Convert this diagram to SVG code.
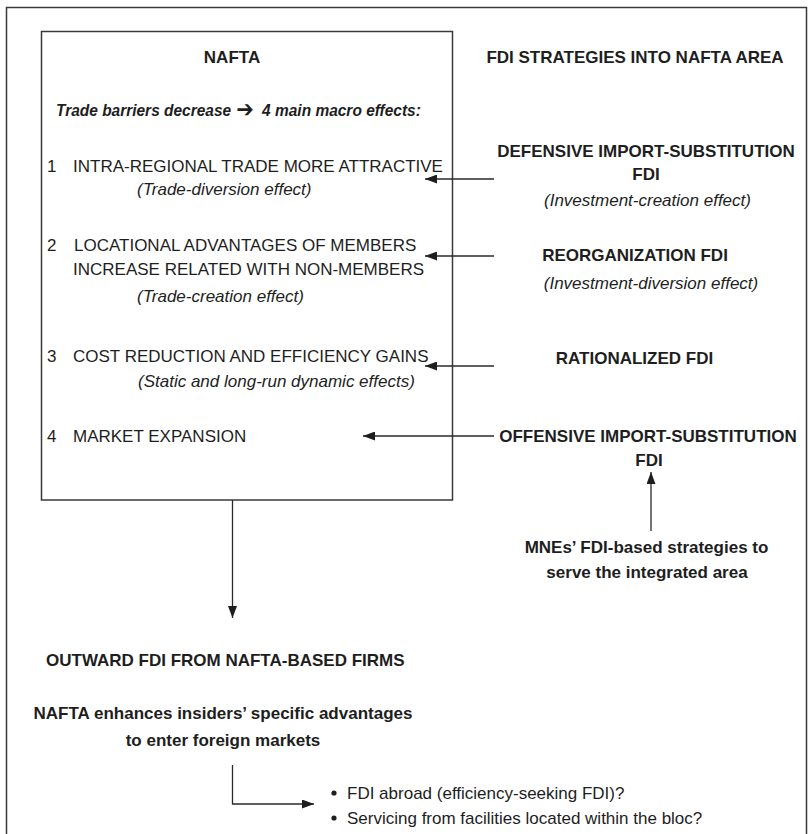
<svg xmlns="http://www.w3.org/2000/svg" width="809" height="834" viewBox="0 0 809 834">
<style>
text{font-family:"Liberation Sans",Arial,sans-serif;fill:#1e1e1e;font-size:17px}
.b{font-weight:bold}
.i{font-style:italic}
.m{text-anchor:middle}
.frame{fill:none;stroke:#3a3a3a;stroke-width:1.5}
.con{fill:none;stroke:#2a2a2a;stroke-width:1.3}
</style>
<defs>
<marker id="ah" markerUnits="userSpaceOnUse" markerWidth="13" markerHeight="9" refX="12" refY="4.5" orient="auto">
<path d="M0,0 L12,4.5 L0,9 z" fill="#1e1e1e"/>
</marker>
</defs>
<rect class="frame" x="6.5" y="7.5" width="800" height="840"/>
<g id="nafta-box">
<rect class="frame" x="41.5" y="31.5" width="411" height="468.5"/>
<text class="b m" x="232" y="63">NAFTA</text>
<text class="b i" transform="translate(56,116) scale(0.91,1)" x="0" y="0" font-size="16">Trade barriers decrease<tspan x="198" y="1" font-size="23" font-style="normal" font-family="DejaVu Sans, sans-serif">➔</tspan><tspan x="226.5" y="0">4 main macro effects:</tspan></text>
</g>
<g id="effect1">
<text x="47" y="172">1</text><text x="73" y="172">INTRA-REGIONAL TRADE MORE ATTRACTIVE</text>
<text class="i" x="137" y="195">(Trade-diversion effect)</text>
</g>
<g id="effect2">
<text x="47" y="251">2</text><text x="74" y="251">LOCATIONAL ADVANTAGES OF MEMBERS</text>
<text x="73" y="275">INCREASE RELATED WITH NON-MEMBERS</text>
<text class="i" x="137" y="302">(Trade-creation effect)</text>
</g>
<g id="effect3">
<text x="47" y="362">3</text><text x="73" y="362">COST REDUCTION AND EFFICIENCY GAINS</text>
<text class="i" x="138" y="387">(Static and long-run dynamic effects)</text>
</g>
<g id="effect4">
<text x="47" y="442">4</text><text x="73" y="442">MARKET EXPANSION</text>
</g>
<g id="fdi-header">
<text class="b m" x="635" y="63">FDI STRATEGIES INTO NAFTA AREA</text>
</g>
<g id="defensive">
<text class="b m" x="646" y="157">DEFENSIVE IMPORT-SUBSTITUTION</text>
<text class="b m" x="646" y="180">FDI</text>
<text class="i m" x="647.5" y="206">(Investment-creation effect)</text>
</g>
<g id="reorganization">
<text class="b m" x="635" y="261">REORGANIZATION FDI</text>
<text class="i m" x="651" y="289">(Investment-diversion effect)</text>
</g>
<g id="rationalized">
<text class="b m" x="634.5" y="364">RATIONALIZED FDI</text>
</g>
<g id="offensive">
<text class="b m" x="648" y="442">OFFENSIVE IMPORT-SUBSTITUTION</text>
<text class="b m" x="649" y="466">FDI</text>
</g>
<g id="mnes">
<text class="b m" x="646.5" y="553">MNEs’ FDI-based strategies to</text>
<text class="b m" x="647" y="578">serve the integrated area</text>
</g>
<g id="outward">
<text class="b" x="46" y="666">OUTWARD FDI FROM NAFTA-BASED FIRMS</text>
</g>
<g id="enhances">
<text class="b m" x="223" y="719">NAFTA enhances insiders’ specific advantages</text>
<text class="b m" x="223" y="746">to enter foreign markets</text>
</g>
<g id="options">
<circle cx="334" cy="793" r="2.6" fill="#1e1e1e"/>
<text x="347" y="799" font-size="16.5">FDI abroad (efficiency-seeking FDI)?</text>
<circle cx="334" cy="818" r="2.6" fill="#1e1e1e"/>
<text x="347" y="824" font-size="16.5">Servicing from facilities located within the bloc?</text>
</g>
<g id="connectors">
<line class="con" x1="494" y1="179" x2="425" y2="179" marker-end="url(#ah)"/>
<line class="con" x1="494" y1="256" x2="425" y2="256" marker-end="url(#ah)"/>
<line class="con" x1="494" y1="366" x2="425" y2="366" marker-end="url(#ah)"/>
<line class="con" x1="494" y1="436" x2="363" y2="436" marker-end="url(#ah)"/>
<line class="con" x1="651" y1="531" x2="651" y2="472" marker-end="url(#ah)"/>
<line class="con" x1="232.5" y1="500" x2="232.5" y2="618" marker-end="url(#ah)"/>
<polyline class="con" points="232.5,765 232.5,804 314,804" marker-end="url(#ah)"/>
</g>
</svg>
